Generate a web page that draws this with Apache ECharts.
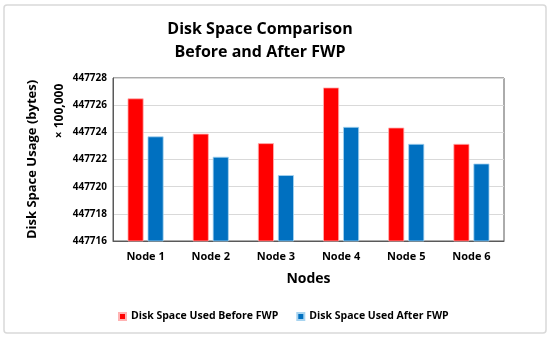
<!DOCTYPE html>
<html><head><meta charset="utf-8">
<script src="https://cdn.jsdelivr.net/npm/echarts@6/dist/echarts.min.js"></script>
<style>html,body{margin:0;padding:0;background:#fff}#c{width:550px;height:339px}</style>
</head><body><div id="c"></div>
<script>
var categories = ['Node 1','Node 2','Node 3','Node 4','Node 5','Node 6'];
var before = [447726.5, 447723.9, 447723.2, 447727.3, 447724.35, 447723.15];
var after = [447723.7, 447722.2, 447720.85, 447724.4, 447723.15, 447721.7];
var seriesNames = ['Disk Space Used Before FWP', 'Disk Space Used After FWP'];
var F = 'Open Sans';
var chart = echarts.init(document.getElementById('c'), null, {renderer:'canvas'});
chart.setOption({
  animation:false,
  backgroundColor:'#fff',
  textStyle:{fontFamily:F},
  graphic:[
    {type:'rect', shape:{x:4,y:5,width:542,height:328,r:3}, style:{fill:'none',stroke:'#d9d9d9',lineWidth:1.5}},
    {type:'text', x:260, y:29, style:{text:'Disk Space Comparison', fontFamily:F, fontWeight:'bold', fontSize:16, fill:'#000', align:'center', verticalAlign:'middle'}},
    {type:'text', x:260, y:52, style:{text:'Before and After FWP', fontFamily:F, fontWeight:'bold', fontSize:16, fill:'#000', align:'center', verticalAlign:'middle'}},
    {type:'text', x:60, y:111, rotation:Math.PI/2, style:{text:'× 100,000', fontFamily:F, fontWeight:'bold', fontSize:12, fill:'#000', align:'center', verticalAlign:'middle'}}
  ],
  legend:{
    data:seriesNames, top:306, left:113, itemWidth:7, itemHeight:7, itemGap:18,
    icon:'rect',
    textStyle:{fontFamily:F, fontWeight:'bold', fontSize:10.5, color:'#000'}
  },
  grid:{left:113, right:46, top:78, bottom:98, containLabel:false, show:true, borderColor:'#595959', borderWidth:1},
  xAxis:{
    type:'category', data:categories,
    name:'Nodes', nameLocation:'middle', nameGap:31,
    nameTextStyle:{fontFamily:F, fontWeight:'bold', fontSize:14, color:'#000'},
    axisLine:{lineStyle:{color:'#595959'}}, axisTick:{show:false},
    axisLabel:{fontFamily:F, fontWeight:'bold', fontSize:11, color:'#000', margin:10}
  },
  yAxis:{
    type:'value', min:447716, max:447728, interval:2,
    name:'Disk Space Usage (bytes)', nameLocation:'middle', nameGap:74, nameRotate:90,
    nameTextStyle:{fontFamily:F, fontWeight:'bold', fontSize:13, color:'#000'},
    axisLine:{show:true, lineStyle:{color:'#595959'}}, axisTick:{show:false},
    splitLine:{lineStyle:{color:'#d9d9d9'}},
    axisLabel:{fontFamily:F, fontWeight:'bold', fontSize:10, color:'#000', margin:6,
      formatter:function(v){return String(v);}}
  },
  series:[
    {name:seriesNames[0], type:'bar', data:before, barWidth:16, barGap:'25%',
      itemStyle:{color:'#FF0000', borderColor:'#ffb3b3', borderWidth:0.8}},
    {name:seriesNames[1], type:'bar', data:after, barWidth:16,
      itemStyle:{color:'#0070C0', borderColor:'#a8d4f0', borderWidth:0.8}}
  ]
});
</script></body></html>
